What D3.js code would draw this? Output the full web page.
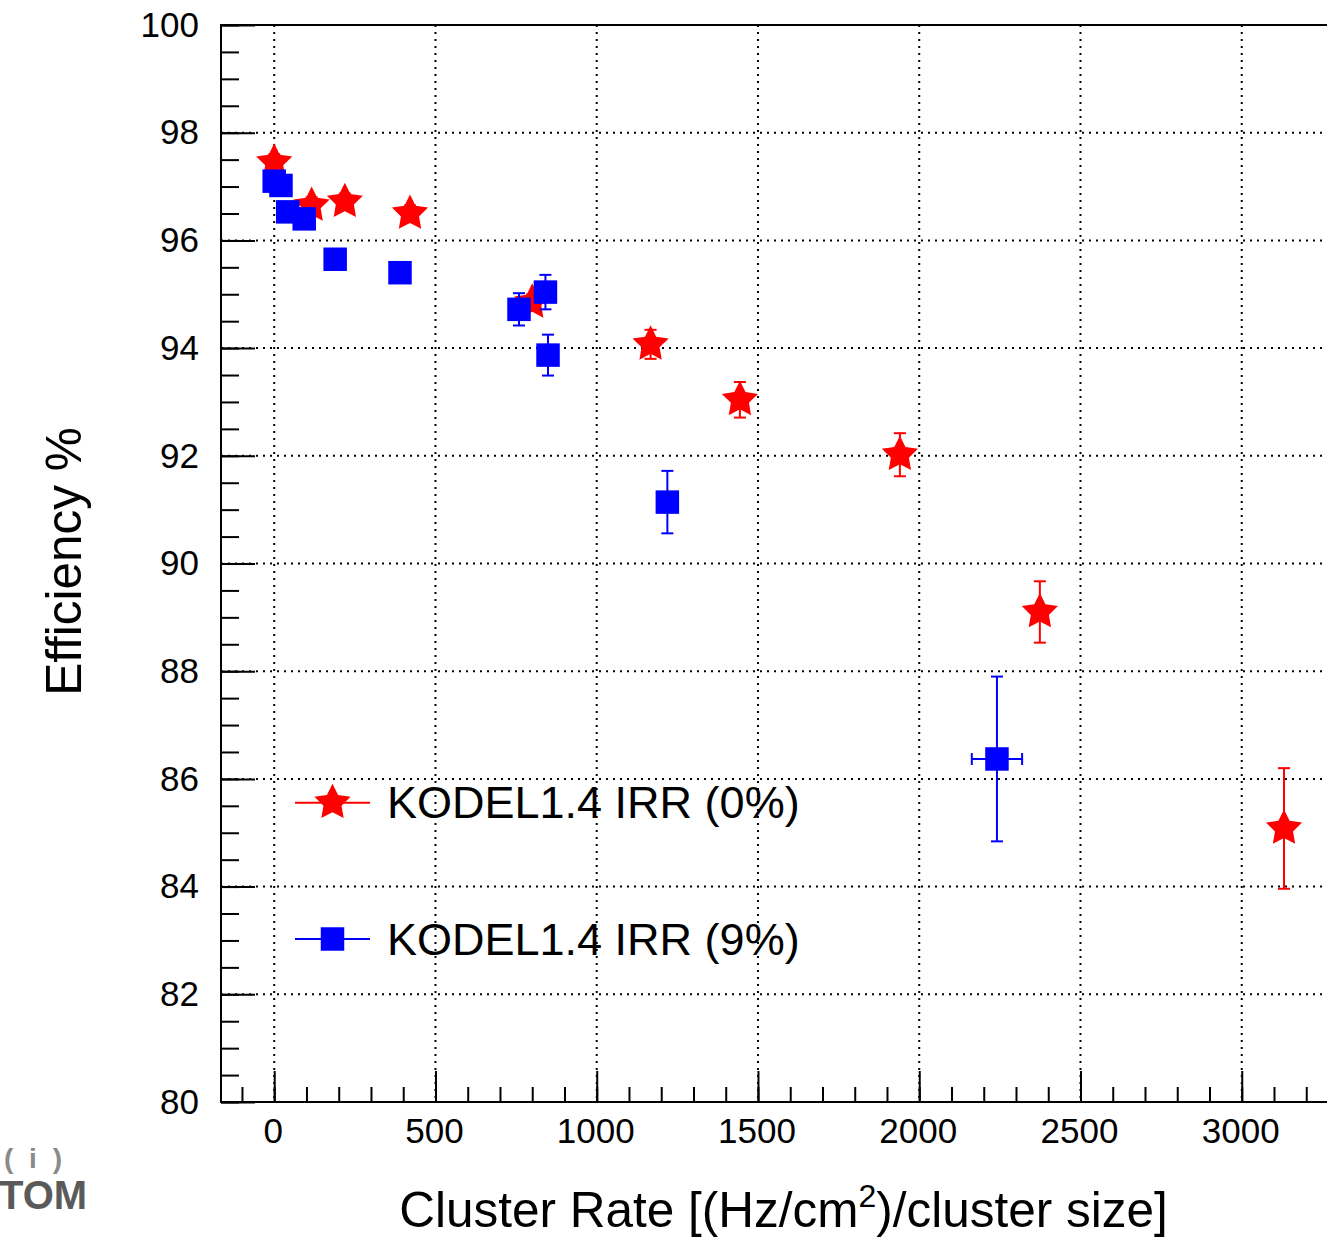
<!DOCTYPE html>
<html>
<head>
<meta charset="utf-8">
<script src="https://cdn.jsdelivr.net/npm/d3@7"></script>
<style>
  html, body { margin: 0; padding: 0; background: #fff; }
  svg { display: block; font-family: "Liberation Sans", Arial, Helvetica, sans-serif; }
</style>
</head>
<body>
<svg id="chart" width="1327" height="1240"></svg>
<script>
// ---- data ----
const seriesNames = ["KODEL1.4 IRR (0%)", "KODEL1.4 IRR (9%)"];
const irr0X  = [0, 116, 219, 421, 800, 1167, 1444, 1940, 2374, 3131];
const irr0Y  = [97.45, 96.65, 96.72, 96.5, 94.85, 94.07, 93.04, 92.02, 89.1, 85.08];
const irr0EY = [0.15, 0.15, 0.15, 0.15, 0.15, 0.27, 0.33, 0.4, 0.57, 1.12];
const irr0EX = [0, 0, 0, 0, 0, 0, 0, 0, 0, 0];

const irr9X  = [0, 21, 42, 93, 189, 390, 759, 841, 849, 1219, 2241];
const irr9Y  = [97.1, 97.02, 96.53, 96.4, 95.65, 95.4, 94.72, 95.04, 93.87, 91.14, 86.37];
const irr9EY = [0.1, 0.1, 0.1, 0.1, 0.1, 0.13, 0.3, 0.32, 0.38, 0.58, 1.53];
const irr9EX = [0, 0, 0, 0, 0, 0, 0, 0, 0, 0, 78];

const xMajorTicks = [0, 500, 1000, 1500, 2000, 2500, 3000];
const yMajorTicks = [80, 82, 84, 86, 88, 90, 92, 94, 96, 98, 100];
const xTitle = "Cluster Rate [(Hz/cm";
const xTitleSup = "2";
const xTitleEnd = ")/cluster size]";
const yTitle = "Efficiency %";

// ---- layout ----
const svg = d3.select("#chart");
const pLeft = 221, pTop = 25, pBottom = 1102, pRight = 1338.5;
const x = d3.scaleLinear().domain([-165, 3300]).range([pLeft, pRight]);
const y = d3.scaleLinear().domain([80, 100]).range([pBottom, pTop]);

const xMinor = d3.range(-100, 3301, 100);
const yMinor = d3.range(80, 100.01, 0.5);

// grid
const grid = svg.append("g").attr("stroke", "#000").attr("stroke-width", 2)
  .attr("stroke-dasharray", "2 5").attr("fill", "none");
grid.selectAll(".gx").data(xMajorTicks).join("line")
  .attr("x1", d => x(d)).attr("x2", d => x(d)).attr("y1", pTop).attr("y2", pBottom);
grid.selectAll(".gy").data(yMajorTicks.filter(d => d > 80 && d < 100)).join("line")
  .attr("y1", d => y(d)).attr("y2", d => y(d)).attr("x1", pLeft).attr("x2", pRight);

// axes
const tickFont = 35;
const xAxisMinor = d3.axisBottom(x).tickValues(xMinor).tickSize(-15).tickFormat("");
const xAxisMajor = d3.axisBottom(x).tickValues(xMajorTicks).tickSize(-31).tickPadding(16).tickFormat(d3.format("d"));
const yAxisMinor = d3.axisLeft(y).tickValues(yMinor).tickSize(-18).tickFormat("");
const yAxisMajor = d3.axisLeft(y).tickValues(yMajorTicks).tickSize(-34).tickPadding(22).tickFormat(d3.format("d"));

function styleAxis(g) {
  g.select(".domain").remove();
  g.selectAll(".tick line").attr("stroke", "#000").attr("stroke-width", 2);
  g.selectAll(".tick text").attr("fill", "#000").attr("font-size", tickFont)
    .attr("font-family", "Liberation Sans, Arial, sans-serif");
}
svg.append("g").attr("transform", `translate(0,${pBottom})`).call(xAxisMinor).call(styleAxis);
svg.append("g").attr("transform", `translate(-1.5,${pBottom})`).call(xAxisMajor).call(styleAxis)
  .selectAll(".tick line").attr("transform", "translate(1.5,0)");
svg.append("g").attr("transform", `translate(${pLeft},0)`).call(yAxisMinor).call(styleAxis);
svg.append("g").attr("transform", `translate(${pLeft},0)`).call(yAxisMajor).call(styleAxis);

// frame
svg.append("rect").attr("x", pLeft).attr("y", pTop).attr("width", pRight - pLeft).attr("height", pBottom - pTop)
  .attr("fill", "none").attr("stroke", "#000").attr("stroke-width", 2);

// star symbol
const starSymbol = {
  draw(ctx, size) {
    const R = Math.sqrt(size), r = R * 0.5;
    for (let i = 0; i < 10; i++) {
      const rad = i % 2 === 0 ? R : r;
      const a = -Math.PI / 2 + i * Math.PI / 5;
      const px = rad * Math.cos(a), py = rad * Math.sin(a);
      if (i === 0) ctx.moveTo(px, py); else ctx.lineTo(px, py);
    }
    ctx.closePath();
  }
};
const starPath = d3.symbol().type(starSymbol).size(19 * 19)();
const squarePath = d3.symbol().type(d3.symbolSquare).size(23.5 * 23.5)();

function drawSeries(xs, ys, exs, eys, color, path) {
  const data = xs.map((d, i) => ({ x: d, y: ys[i], ex: exs[i], ey: eys[i] }));
  const g = svg.append("g");
  const cap = 6;
  const eb = g.append("g").attr("stroke", color).attr("stroke-width", 2).attr("fill", "none");
  data.forEach(d => {
    const cx = x(d.x), cy = y(d.y);
    if (d.ey > 0) {
      const y1 = y(d.y + d.ey), y2 = y(d.y - d.ey);
      eb.append("line").attr("x1", cx).attr("x2", cx).attr("y1", y1).attr("y2", y2);
      eb.append("line").attr("x1", cx - cap).attr("x2", cx + cap).attr("y1", y1).attr("y2", y1);
      eb.append("line").attr("x1", cx - cap).attr("x2", cx + cap).attr("y1", y2).attr("y2", y2);
    }
    if (d.ex > 0) {
      const x1 = x(d.x - d.ex), x2 = x(d.x + d.ex);
      eb.append("line").attr("x1", x1).attr("x2", x2).attr("y1", cy).attr("y2", cy);
      eb.append("line").attr("x1", x1).attr("x2", x1).attr("y1", cy - cap).attr("y2", cy + cap);
      eb.append("line").attr("x1", x2).attr("x2", x2).attr("y1", cy - cap).attr("y2", cy + cap);
    }
  });
  g.selectAll("path.m").data(data).join("path").attr("class", "m")
    .attr("d", path).attr("fill", color)
    .attr("transform", d => `translate(${x(d.x)},${y(d.y)})`);
}
drawSeries(irr0X, irr0Y, irr0EX, irr0EY, "#ff0000", starPath);
drawSeries(irr9X, irr9Y, irr9EX, irr9EY, "#0000ff", squarePath);

// legend
const legend = [
  { name: seriesNames[0], color: "#ff0000", path: starPath, yy: 802.7 },
  { name: seriesNames[1], color: "#0000ff", path: squarePath, yy: 939 }
];
const lg = svg.append("g");
legend.forEach(l => {
  lg.append("line").attr("x1", 295).attr("x2", 370).attr("y1", l.yy).attr("y2", l.yy)
    .attr("stroke", l.color).attr("stroke-width", 2);
  lg.append("path").attr("d", l.path).attr("fill", l.color).attr("transform", `translate(332.5,${l.yy})`);
  lg.append("text").attr("x", 387).attr("y", l.yy + 15.5).attr("font-size", 45).attr("fill", "#000").text(l.name);
});

// axis titles
const xt = svg.append("text").attr("x", 783.5).attr("y", 1227).attr("text-anchor", "middle")
  .attr("font-size", 49.5).attr("fill", "#000");
xt.append("tspan").text(xTitle);
xt.append("tspan").attr("font-size", 32).attr("dy", -20).text(xTitleSup);
xt.append("tspan").attr("dy", 20).text(xTitleEnd);

svg.append("text").attr("transform", `translate(80.5,561.5) rotate(-90)`).attr("text-anchor", "middle")
  .attr("font-size", 49.5).attr("fill", "#000").text(yTitle);

// watermark
svg.append("text").attr("x", 4).attr("y", 1168).attr("font-size", 28).attr("font-weight", "bold")
  .attr("fill", "#8a8a8a").attr("letter-spacing", 4).text("( i )");
svg.append("text").attr("x", -1).attr("y", 1209).attr("font-size", 40).attr("font-weight", "bold")
  .attr("fill", "#5a5a5a").text("TOM");
</script>
</body>
</html>
